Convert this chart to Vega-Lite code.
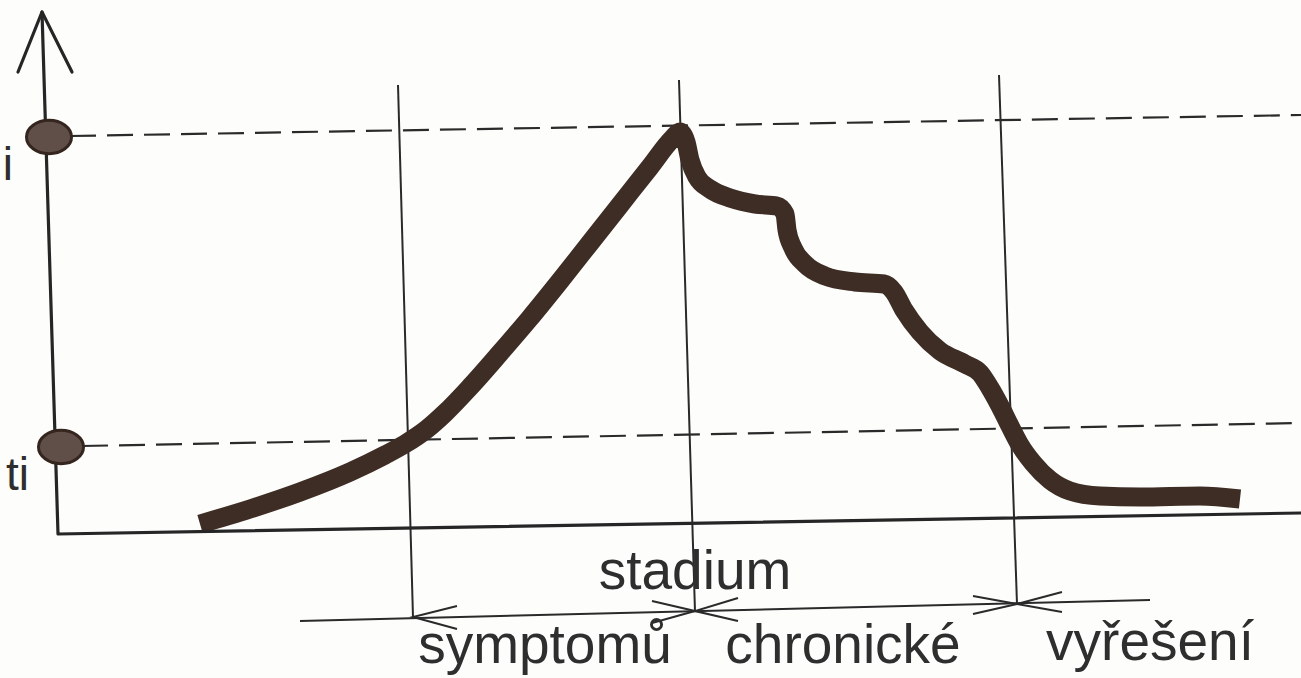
{
  "$schema": "https://vega.github.io/schema/vega-lite/v6.json",
  "width": 1301,
  "height": 678,
  "autosize": "none",
  "padding": 0,
  "background": "#fdfdfb",
  "config": {"view": {"stroke": null}},
  "datasets": {
    "axes": [
      {"seg": "axis", "o": 1, "x": 42, "y": 12},
      {"seg": "axis", "o": 2, "x": 58, "y": 534},
      {"seg": "axis", "o": 3, "x": 1301, "y": 513},
      {"seg": "arrow", "o": 1, "x": 18, "y": 72},
      {"seg": "arrow", "o": 2, "x": 42, "y": 12},
      {"seg": "arrow", "o": 3, "x": 72, "y": 72}
    ],
    "guides": [
      {"seg": "v1", "o": 1, "x": 398, "y": 85},
      {"seg": "v1", "o": 2, "x": 413, "y": 617},
      {"seg": "v2", "o": 1, "x": 679, "y": 80},
      {"seg": "v2", "o": 2, "x": 695, "y": 612},
      {"seg": "v3", "o": 1, "x": 999, "y": 75},
      {"seg": "v3", "o": 2, "x": 1017, "y": 604},
      {"seg": "time", "o": 1, "x": 300, "y": 621},
      {"seg": "time", "o": 2, "x": 1150, "y": 600},
      {"seg": "a1", "o": 1, "x": 457, "y": 606},
      {"seg": "a1", "o": 2, "x": 413, "y": 617},
      {"seg": "a1", "o": 3, "x": 457, "y": 629},
      {"seg": "a2l", "o": 1, "x": 652, "y": 601},
      {"seg": "a2l", "o": 2, "x": 695, "y": 611},
      {"seg": "a2l", "o": 3, "x": 652, "y": 623},
      {"seg": "a2r", "o": 1, "x": 738, "y": 598},
      {"seg": "a2r", "o": 2, "x": 695, "y": 611},
      {"seg": "a2r", "o": 3, "x": 738, "y": 621},
      {"seg": "a3l", "o": 1, "x": 973, "y": 596},
      {"seg": "a3l", "o": 2, "x": 1017, "y": 604},
      {"seg": "a3l", "o": 3, "x": 973, "y": 614},
      {"seg": "a3r", "o": 1, "x": 1062, "y": 592},
      {"seg": "a3r", "o": 2, "x": 1017, "y": 604},
      {"seg": "a3r", "o": 3, "x": 1062, "y": 612}
    ],
    "dashes": [
      {"seg": "top", "o": 1, "x": 70, "y": 136},
      {"seg": "top", "o": 2, "x": 1301, "y": 115},
      {"seg": "low", "o": 1, "x": 82, "y": 446},
      {"seg": "low", "o": 2, "x": 1301, "y": 423}
    ],
    "curve": [
      {"o": 1, "x": 200, "y": 524},
      {"o": 2, "x": 250, "y": 509},
      {"o": 3, "x": 300, "y": 492},
      {"o": 4, "x": 350, "y": 472},
      {"o": 5, "x": 385, "y": 455},
      {"o": 6, "x": 405, "y": 444},
      {"o": 7, "x": 427, "y": 429},
      {"o": 8, "x": 445, "y": 413},
      {"o": 9, "x": 470, "y": 387},
      {"o": 10, "x": 500, "y": 353},
      {"o": 11, "x": 530, "y": 318},
      {"o": 12, "x": 560, "y": 281},
      {"o": 13, "x": 590, "y": 243},
      {"o": 14, "x": 620, "y": 205},
      {"o": 15, "x": 650, "y": 167},
      {"o": 16, "x": 672, "y": 139},
      {"o": 17, "x": 680, "y": 132},
      {"o": 18, "x": 686, "y": 142},
      {"o": 19, "x": 690, "y": 160},
      {"o": 20, "x": 697, "y": 177},
      {"o": 21, "x": 710, "y": 189},
      {"o": 22, "x": 730, "y": 198},
      {"o": 23, "x": 755, "y": 204},
      {"o": 24, "x": 777, "y": 206},
      {"o": 25, "x": 785, "y": 214},
      {"o": 26, "x": 787, "y": 230},
      {"o": 27, "x": 793, "y": 248},
      {"o": 28, "x": 805, "y": 264},
      {"o": 29, "x": 825, "y": 276},
      {"o": 30, "x": 855, "y": 282},
      {"o": 31, "x": 884, "y": 284},
      {"o": 32, "x": 894, "y": 292},
      {"o": 33, "x": 904, "y": 310},
      {"o": 34, "x": 920, "y": 332},
      {"o": 35, "x": 940, "y": 351},
      {"o": 36, "x": 965, "y": 364},
      {"o": 37, "x": 980, "y": 373},
      {"o": 38, "x": 990, "y": 388},
      {"o": 39, "x": 1000, "y": 406},
      {"o": 40, "x": 1010, "y": 426},
      {"o": 41, "x": 1020, "y": 445},
      {"o": 42, "x": 1033, "y": 463},
      {"o": 43, "x": 1050, "y": 480},
      {"o": 44, "x": 1070, "y": 491},
      {"o": 45, "x": 1100, "y": 496},
      {"o": 46, "x": 1140, "y": 497},
      {"o": 47, "x": 1200, "y": 496},
      {"o": 48, "x": 1240, "y": 499}
    ],
    "ovals": [
      {"x": 49, "y": 137},
      {"x": 61, "y": 447}
    ],
    "labels": [
      {"t": "stadium", "x": 695, "y": 589},
      {"t": "symptomů", "x": 545, "y": 663},
      {"t": "chronické", "x": 843, "y": 663},
      {"t": "vyřešení", "x": 1150, "y": 660}
    ],
    "side": [
      {"t": "i", "x": 13, "y": 180},
      {"t": "ti", "x": 29, "y": 490}
    ]
  },
  "encoding": {
    "x": {"field": "x", "type": "quantitative", "scale": {"domain": [0, 1301], "nice": false, "zero": false}, "axis": null},
    "y": {"field": "y", "type": "quantitative", "scale": {"domain": [0, 678], "nice": false, "zero": false, "reverse": true}, "axis": null}
  },
  "layer": [
    {
      "data": {"name": "dashes"},
      "mark": {"type": "line", "color": "#2a2a2a", "strokeWidth": 2.2, "strokeDash": [26, 11]},
      "encoding": {"detail": {"field": "seg"}, "order": {"field": "o"}}
    },
    {
      "data": {"name": "guides"},
      "mark": {"type": "line", "color": "#2a2a2a", "strokeWidth": 2, "strokeJoin": "miter"},
      "encoding": {"detail": {"field": "seg"}, "order": {"field": "o"}}
    },
    {
      "data": {"name": "curve"},
      "mark": {"type": "line", "color": "#3e2d25", "strokeWidth": 19, "strokeCap": "butt", "strokeJoin": "round", "interpolate": "monotone"},
      "encoding": {"order": {"field": "o"}}
    },
    {
      "data": {"name": "axes"},
      "mark": {"type": "line", "color": "#262626", "strokeWidth": 3.2, "strokeJoin": "round", "strokeCap": "round"},
      "encoding": {"detail": {"field": "seg"}, "order": {"field": "o"}}
    },
    {
      "data": {"name": "ovals"},
      "mark": {"type": "point", "shape": "M -1 0 A 1 0.74 0 1 0 1 0 A 1 0.74 0 1 0 -1 0 Z", "size": 2025, "filled": true, "fill": "#5f4f48", "stroke": "#34251f", "strokeWidth": 3, "opacity": 1}
    },
    {
      "data": {"name": "labels"},
      "mark": {"type": "text", "font": "Liberation Sans", "fontSize": 55, "align": "center", "baseline": "alphabetic", "color": "#2e2e2e"},
      "encoding": {"text": {"field": "t"}}
    },
    {
      "data": {"name": "side"},
      "mark": {"type": "text", "font": "Liberation Sans", "fontSize": 46, "align": "right", "baseline": "alphabetic", "color": "#2e2e2e"},
      "encoding": {"text": {"field": "t"}}
    }
  ]
}
